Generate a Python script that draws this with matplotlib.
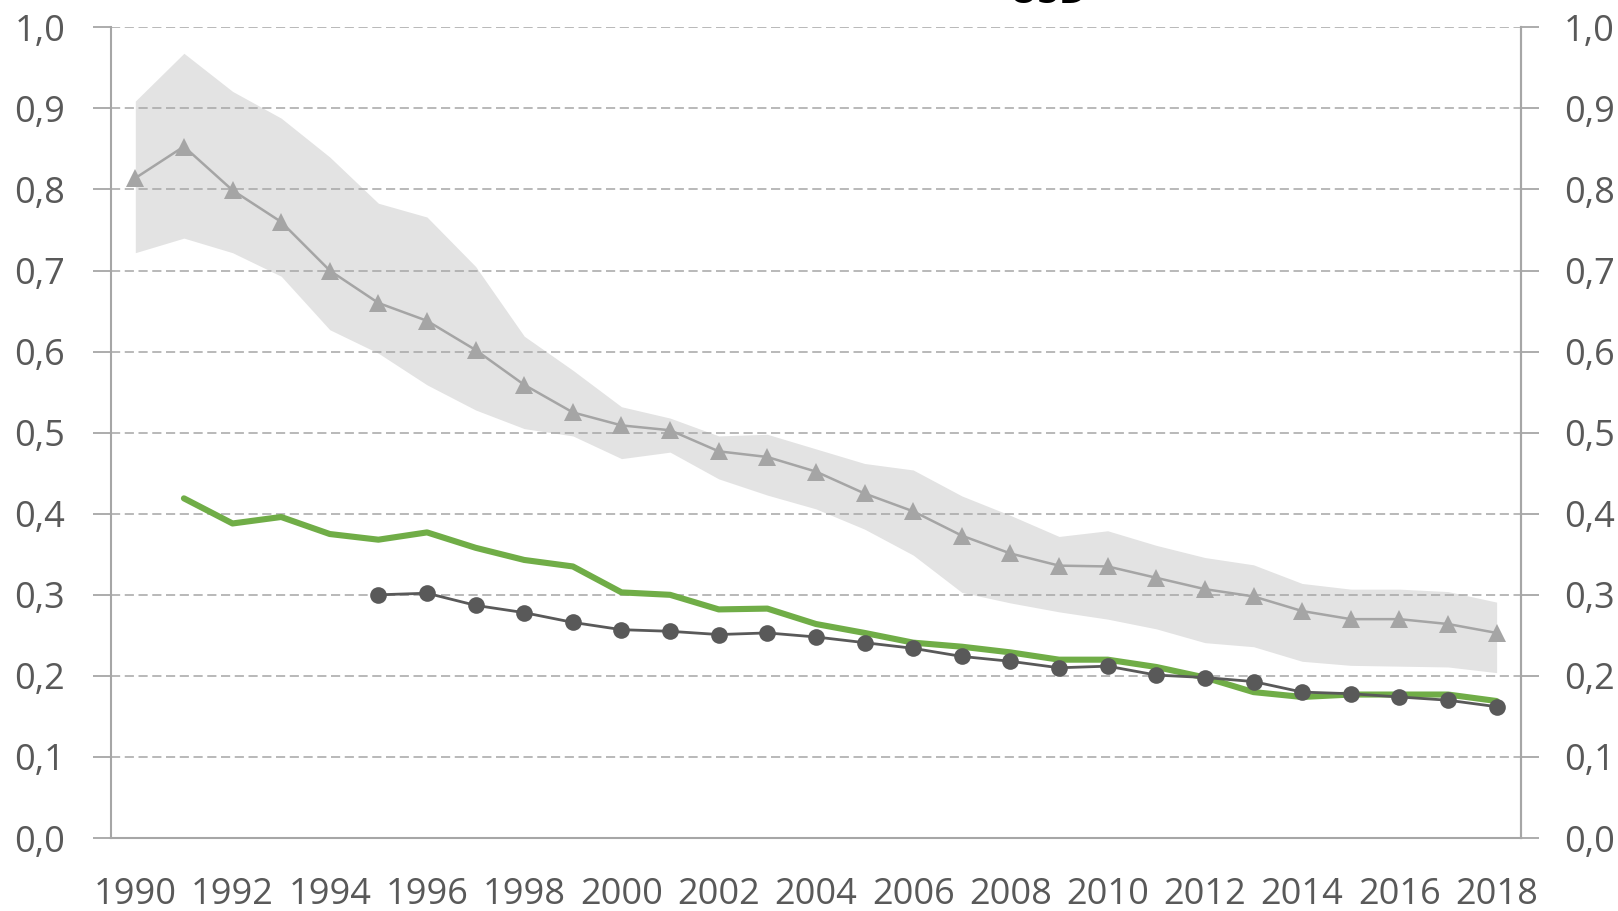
import numpy as np
import matplotlib
matplotlib.use("Agg")
import matplotlib.pyplot as plt
from matplotlib.ticker import FixedLocator, FuncFormatter

years = list(range(1990, 2019))
xlabels = [str(y) if y % 2 == 0 else "" for y in years]

tri = [0.814, 0.853, 0.799, 0.760, 0.700, 0.660, 0.638, 0.602, 0.559, 0.525,
       0.509, 0.503, 0.477, 0.470, 0.452, 0.425, 0.403, 0.373, 0.351, 0.336,
       0.335, 0.321, 0.307, 0.298, 0.280, 0.270, 0.270, 0.264, 0.253]
upper = [0.909, 0.968, 0.921, 0.888, 0.840, 0.783, 0.766, 0.705, 0.619, 0.577,
         0.532, 0.518, 0.496, 0.498, 0.480, 0.462, 0.454, 0.422, 0.398, 0.372,
         0.379, 0.361, 0.346, 0.337, 0.314, 0.307, 0.307, 0.304, 0.291]
lower = [0.722, 0.740, 0.722, 0.693, 0.627, 0.598, 0.559, 0.528, 0.505, 0.496,
         0.468, 0.476, 0.443, 0.423, 0.406, 0.381, 0.349, 0.303, 0.290, 0.279,
         0.270, 0.258, 0.241, 0.236, 0.218, 0.213, 0.212, 0.211, 0.204]
green = [np.nan, 0.419, 0.388, 0.396, 0.375, 0.368, 0.377, 0.358, 0.343, 0.335,
         0.303, 0.300, 0.282, 0.283, 0.264, 0.253, 0.241, 0.236, 0.229, 0.220,
         0.220, 0.211, 0.198, 0.180, 0.174, 0.177, 0.177, 0.177, 0.169]
dark = [np.nan, np.nan, np.nan, np.nan, np.nan, 0.300, 0.302, 0.287, 0.278, 0.266,
        0.257, 0.255, 0.251, 0.253, 0.248, 0.241, 0.234, 0.224, 0.218, 0.210,
        0.212, 0.201, 0.198, 0.193, 0.180, 0.178, 0.174, 0.170, 0.162]
yticks = [0.0, 0.1, 0.2, 0.3, 0.4, 0.5, 0.6, 0.7, 0.8, 0.9, 1.0]

plt.rcParams['font.family'] = ['Open Sans', 'DejaVu Sans']
TXT = '#595959'
GRID = '#a6a6a6'
FS = 26

fig = plt.figure(figsize=(16.18, 9.11), dpi=100)
ax = fig.add_axes([0.0686, 0.0801, 0.940 - 0.0686, 0.970 - 0.0801])
x = np.arange(len(years))

ax.fill_between(x, lower, upper, color='#e3e3e3', linewidth=0, zorder=1)
for t in yticks[1:]:
    ax.axhline(t, color=GRID, lw=1.1, ls=(0, (6, 3)), zorder=2)
ax.plot(x, tri, color='#a5a5a5', lw=1.8, marker='^', markersize=12.5,
        markeredgewidth=0, zorder=3)
ax.plot(x, green, color='#70ad47', lw=4.4, solid_capstyle='round', zorder=4)
ax.plot(x, dark, color='#595959', lw=2.0, marker='o', markersize=12,
        markeredgewidth=0, zorder=5)

ax.set_xlim(-0.5, len(years) - 0.5)
ax.set_ylim(0, 1.0)
ax.set_xticks(x)
ax.set_xticklabels(xlabels)
ax.tick_params(axis='x', length=0, pad=28, labelsize=FS, labelcolor=TXT)
ax.yaxis.set_major_locator(FixedLocator(yticks))
fmt = FuncFormatter(lambda v, p: f"{v:.1f}".replace('.', ','))
ax.yaxis.set_major_formatter(fmt)
ax.tick_params(axis='y', length=13, width=1.3, color=GRID, pad=20,
               labelsize=FS, labelcolor=TXT)

ax.spines['top'].set_visible(False)
for s in ['left', 'bottom', 'right']:
    ax.spines[s].set_color(GRID)
    ax.spines[s].set_linewidth(1.5)

ax2 = ax.twinx()
ax2.set_ylim(0, 1.0)
ax2.yaxis.set_major_locator(FixedLocator(yticks))
ax2.yaxis.set_major_formatter(fmt)
ax2.tick_params(axis='y', length=13, width=1.3, color=GRID, pad=18,
                labelsize=FS, labelcolor=TXT)
for s in ['top', 'left', 'bottom']:
    ax2.spines[s].set_visible(False)
ax2.spines['right'].set_color(GRID)
ax2.spines['right'].set_linewidth(1.5)

fig.text(1048 / 1618, 1 - 3 / 911, 'USD', ha='center', va='baseline',
         fontsize=28, fontweight='bold', color='black')

fig.savefig('out.png', dpi=100)
